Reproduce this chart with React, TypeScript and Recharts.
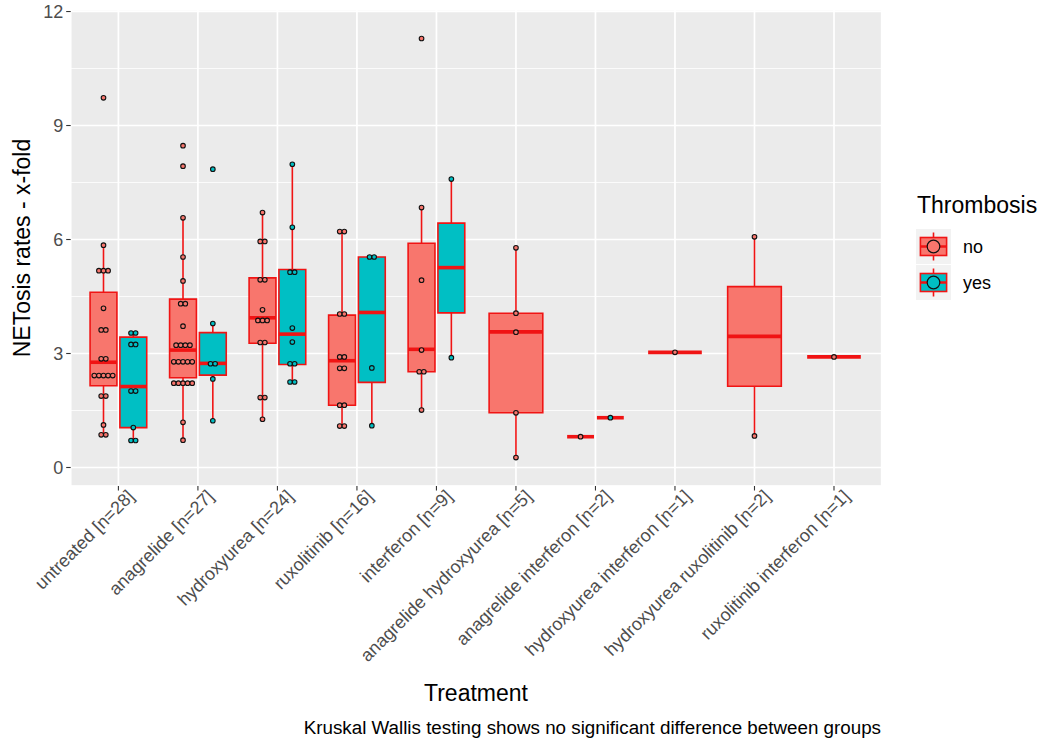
import { ComposedChart, XAxis, YAxis, CartesianGrid, Scatter, ReferenceArea, ReferenceLine } from 'recharts'

const categories = [
  'untreated [n=28]',
  'anagrelide [n=27]',
  'hydroxyurea [n=24]',
  'ruxolitinib [n=16]',
  'interferon [n=9]',
  'anagrelide hydroxyurea [n=5]',
  'anagrelide interferon [n=2]',
  'hydroxyurea interferon [n=1]',
  'hydroxyurea ruxolitinib [n=2]',
  'ruxolitinib interferon [n=1]',
]

// raw observations per treatment, Thrombosis = no
const noPoints: number[][] = [
  [9.73, 5.85, 5.18, 5.18, 5.18, 4.19, 3.62, 3.62, 2.86, 2.86, 2.42, 2.42, 2.42, 2.42, 2.42, 1.88, 1.88, 1.12, 0.86, 0.86],
  [8.47, 7.93, 6.57, 5.54, 4.91, 4.31, 4.31, 3.72, 3.22, 3.22, 3.22, 3.22, 2.78, 2.78, 2.78, 2.78, 2.78, 2.22, 2.22, 2.22, 2.22, 2.22, 1.19, 0.72],
  [6.71, 5.95, 5.95, 4.94, 4.94, 4.15, 3.87, 3.87, 3.87, 3.29, 3.29, 1.84, 1.84, 1.27],
  [6.21, 6.21, 4.04, 4.04, 2.91, 2.91, 2.61, 2.61, 1.64, 1.64, 1.09, 1.09],
  [11.29, 6.84, 4.93, 3.09, 2.52, 2.52, 1.51],
  [5.78, 4.06, 3.56, 1.44, 0.26],
  [0.81],
  [3.03],
  [6.07, 0.83],
  [2.91],
]

// Thrombosis = yes
const yesPoints: number[][] = [
  [3.54, 3.54, 3.24, 3.24, 2.01, 2.01, 1.05, 0.71, 0.71],
  [7.85, 3.79, 2.73, 2.73, 2.33, 1.23],
  [7.98, 6.32, 5.14, 5.14, 3.67, 3.3, 2.73, 2.73, 2.25, 2.25],
  [5.54, 5.54, 2.62, 1.1],
  [7.59, 2.89],
  [],
  [1.31],
  [],
  [],
  [],
]

// box stats
const noQ1 = [2.15, 2.36, 3.27, 1.64, 2.52, 1.44, 0.81, 3.03, 2.14, 2.91]
const noMedian = [2.77, 3.09, 3.94, 2.81, 3.11, 3.57, 0.81, 3.03, 3.45, 2.91]
const noQ3 = [4.61, 4.43, 4.99, 4.01, 5.9, 4.06, 0.81, 3.03, 4.76, 2.91]
const noLo = [0.86, 0.72, 1.27, 1.09, 1.51, 0.26, 0.81, 3.03, 0.83, 2.91]
const noHi = [5.85, 6.57, 6.71, 6.21, 6.84, 5.78, 0.81, 3.03, 6.07, 2.91]

const yesQ1 = [1.05, 2.43, 2.71, 2.24, 4.07, null, 1.31, null, null, null]
const yesMedian = [2.13, 2.74, 3.51, 4.08, 5.26, null, 1.31, null, null, null]
const yesQ3 = [3.43, 3.55, 5.21, 5.54, 6.43, null, 1.31, null, null, null]
const yesLo = [0.71, 1.23, 2.25, 1.1, 2.89, null, 1.31, null, null, null]
const yesHi = [3.54, 3.79, 7.98, 5.54, 7.59, null, 1.31, null, null, null]

const yTicks = [0, 3, 6, 9, 12]
const yMinorTicks = [1.5, 4.5, 7.5, 10.5]

const RED = '#F01414'
const NO_FILL = '#F8766D'
const YES_FILL = '#00BFC4'
const FONT = '"Liberation Sans", Arial, sans-serif'
const TEXT_GREY = '#4D4D4D'

const xTicks = categories.map((_, i) => i + 1)

// dodge like ggplot: two groups share the slot, one group takes all of it
const centerOf = (i: number, group: 'no' | 'yes') => {
  const dodged = yesPoints[i].length > 0
  if (!dodged) return i + 1
  return group === 'no' ? i + 1 - 0.1875 : i + 1 + 0.1875
}
const halfWidthOf = (i: number) => (yesPoints[i].length > 0 ? 0.16875 : 0.3375)

// spread tied values sideways a little, like the dot layout in the original
function spreadPoints(values: number[], center: number) {
  const counts: Record<string, number> = {}
  values.forEach((v) => (counts[v] = (counts[v] || 0) + 1))
  const seen: Record<string, number> = {}
  return values.map((v) => {
    const k = counts[v]
    const j = (seen[v] = (seen[v] ?? -1) + 1)
    return { x: center + (j - (k - 1) / 2) * 0.058, y: v }
  })
}

const noScatter = noPoints.flatMap((vals, i) => spreadPoints(vals, centerOf(i, 'no')))
const yesScatter = yesPoints.flatMap((vals, i) => spreadPoints(vals, centerOf(i, 'yes')))

type Box = { key: string; c: number; hw: number; q1: number; med: number; q3: number; lo: number; hi: number; fill: string }

const boxes: Box[] = []
categories.forEach((_, i) => {
  boxes.push({
    key: `no-${i}`, c: centerOf(i, 'no'), hw: halfWidthOf(i),
    q1: noQ1[i], med: noMedian[i], q3: noQ3[i], lo: noLo[i], hi: noHi[i], fill: NO_FILL,
  })
  if (yesQ1[i] != null) {
    boxes.push({
      key: `yes-${i}`, c: centerOf(i, 'yes'), hw: halfWidthOf(i),
      q1: yesQ1[i] as number, med: yesMedian[i] as number, q3: yesQ3[i] as number,
      lo: yesLo[i] as number, hi: yesHi[i] as number, fill: YES_FILL,
    })
  }
})

const renderXTick = (props: any) => {
  const { x, y, payload } = props
  return (
    <g transform={`translate(${x + 17},${y + 5})`}>
      <text transform="rotate(-45)" textAnchor="end" fill={TEXT_GREY} fontSize={18} fontFamily={FONT}>
        {categories[payload.value - 1]}
      </text>
    </g>
  )
}

const dot = (fill: string) => (props: any) => (
  <circle cx={props.cx} cy={props.cy} r={2.3} fill={fill} stroke="#111" strokeWidth={1.1} />
)

function LegendKey({ y, fill, label }: { y: number; fill: string; label: string }) {
  const x = 916
  const s = 35
  return (
    <g>
      <rect x={x} y={y} width={s} height={s} fill="#F2F2F2" />
      <line x1={x + s / 2} x2={x + s / 2} y1={y + 3.5} y2={y + s - 3.5} stroke={RED} strokeWidth={1.6} />
      <rect x={x + 4.4} y={y + 8.5} width={s - 8.8} height={s - 17} fill={fill} stroke={RED} strokeWidth={1.6} />
      <line x1={x + 4.4} x2={x + s - 4.4} y1={y + s / 2} y2={y + s / 2} stroke={RED} strokeWidth={2.5} />
      <circle cx={x + s / 2} cy={y + s / 2} r={6.3} fill={fill} stroke="#111" strokeWidth={1.2} />
      <text x={963} y={y + s / 2} dominantBaseline="central" fontSize={18} fill="#000" fontFamily={FONT}>
        {label}
      </text>
    </g>
  )
}

export default function App() {
  return (
    <div style={{ position: 'absolute', left: 0, top: 0, width: 1042, height: 742, background: '#fff', fontFamily: FONT }}>
      <ComposedChart width={1042} height={742} margin={{ top: 10, right: 160.3, bottom: 0, left: 0 }}>
        <CartesianGrid stroke="#FFFFFF" strokeWidth={1.7} fill="#EBEBEB" fillOpacity={1} />
        <CartesianGrid yAxisId="minor" vertical={false} stroke="#FFFFFF" strokeWidth={0.8} />
        <XAxis
          type="number"
          dataKey="x"
          domain={[0.4, 10.6]}
          ticks={xTicks}
          interval={0}
          allowDataOverflow
          axisLine={false}
          tickSize={4.5}
          tickLine={{ stroke: '#333333', strokeWidth: 1.1 }}
          height={256}
          tick={renderXTick}
        />
        <YAxis
          type="number"
          dataKey="y"
          domain={[-0.487, 12.04]}
          ticks={yTicks}
          interval={0}
          allowDataOverflow
          width={70.7}
          axisLine={false}
          tickSize={4.5}
          tickMargin={3}
          tickLine={{ stroke: '#333333', strokeWidth: 1.1 }}
          tick={{ fill: TEXT_GREY, fontSize: 18, fontFamily: FONT }}
        />
        <YAxis yAxisId="minor" type="number" hide domain={[-0.487, 12.04]} ticks={yMinorTicks} interval={0} allowDataOverflow />

        {boxes
          .filter((b) => b.q3 > b.q1)
          .map((b) => (
            <ReferenceArea
              key={`area-${b.key}`}
              x1={b.c - b.hw}
              x2={b.c + b.hw}
              y1={b.q1}
              y2={b.q3}
              fill={b.fill}
              fillOpacity={1}
              stroke={RED}
              strokeWidth={1.6}
              ifOverflow="visible"
            />
          ))}
        {boxes
          .filter((b) => b.hi > b.q3)
          .map((b) => (
            <ReferenceLine
              key={`wh-${b.key}`}
              segment={[{ x: b.c, y: b.q3 }, { x: b.c, y: b.hi }]}
              stroke={RED}
              strokeWidth={1.6}
              ifOverflow="visible"
            />
          ))}
        {boxes
          .filter((b) => b.q1 > b.lo)
          .map((b) => (
            <ReferenceLine
              key={`wl-${b.key}`}
              segment={[{ x: b.c, y: b.lo }, { x: b.c, y: b.q1 }]}
              stroke={RED}
              strokeWidth={1.6}
              ifOverflow="visible"
            />
          ))}
        {boxes.map((b) => (
          <ReferenceLine
            key={`med-${b.key}`}
            segment={[{ x: b.c - b.hw, y: b.med }, { x: b.c + b.hw, y: b.med }]}
            stroke={RED}
            strokeWidth={3.6}
            ifOverflow="visible"
          />
        ))}

        <Scatter data={noScatter} shape={dot(NO_FILL)} isAnimationActive={false} />
        <Scatter data={yesScatter} shape={dot(YES_FILL)} isAnimationActive={false} />
      </ComposedChart>

      <svg width={1042} height={742} style={{ position: 'absolute', left: 0, top: 0, pointerEvents: 'none' }}>
        <text transform="translate(22,248) rotate(-90)" textAnchor="middle" dominantBaseline="central" fontSize={23} fill="#000" fontFamily={FONT}>
          NETosis rates - x-fold
        </text>
        <text x={476} y={693} textAnchor="middle" dominantBaseline="central" fontSize={23} fill="#000" fontFamily={FONT}>
          Treatment
        </text>
        <text x={881} y={727} textAnchor="end" dominantBaseline="central" fontSize={18.8} fill="#000" fontFamily={FONT}>
          Kruskal Wallis testing shows no significant difference between groups
        </text>
        <text x={917} y={205} dominantBaseline="central" fontSize={23} fill="#000" fontFamily={FONT}>
          Thrombosis
        </text>
        <LegendKey y={229} fill={NO_FILL} label="no" />
        <LegendKey y={265} fill={YES_FILL} label="yes" />
      </svg>
    </div>
  )
}
